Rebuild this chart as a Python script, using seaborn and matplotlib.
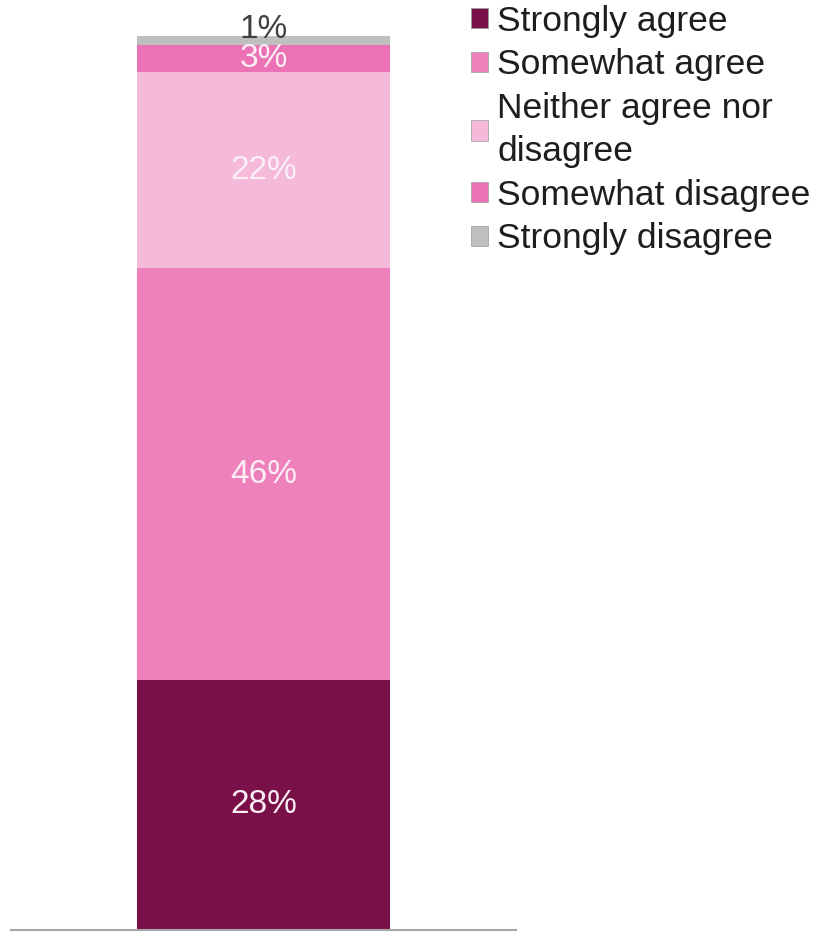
import matplotlib
matplotlib.use("Agg")
import matplotlib.pyplot as plt
from matplotlib.patches import Patch
import numpy as np
import pandas as pd
import seaborn as sns

# Survey responses, bottom of the stack first
responses = ["Strongly agree", "Somewhat agree", "Neither agree nor\ndisagree",
             "Somewhat disagree", "Strongly disagree"]
shares = [28, 46, 22, 3, 1]
colors = ["#7A1048", "#EE80BC", "#F5B9DA", "#EC72B6", "#BFBFBF"]
label_colors = ["#FBEFF5", "#FBEFF5", "#FBEFF5", "#FBEFF5", "#404040"]
group = [""]

sns.set_theme(style="white")
plt.rcParams["font.family"] = ["Liberation Sans", "DejaVu Sans"]

df = pd.DataFrame({"response": responses, "share": shares, "color": colors})
df["top"] = df["share"].cumsum()
df["bottom"] = df["top"] - df["share"]

fig = plt.figure(figsize=(8.27, 9.32), dpi=100)
ax = fig.add_axes([11 / 827, 2 / 932, 505 / 827, 894 / 932])

# Stacked bar: draw cumulative totals from tallest to shortest
for _, row in df.iloc[::-1].iterrows():
    sns.barplot(x=group, y=[row["top"]], color=row["color"], saturation=1,
                width=0.5, linewidth=0, ax=ax)

# Segment labels; the thin top segment gets its label lifted above the bar
for i, row in df.iterrows():
    mid = (row["top"] + row["bottom"]) / 2
    offset = 8 if row["share"] < 2 else 0
    ax.annotate(f"{row['share']}%", xy=(0, mid), xytext=(0, offset),
                textcoords="offset points", ha="center", va="center",
                fontsize=24, color=label_colors[i])

ax.set_xlim(-0.5, 0.5)
ax.set_ylim(0, 100)
ax.set_xlabel("")
ax.set_ylabel("")
ax.set_xticks([])
ax.set_yticks([])
for side in ["top", "left", "right"]:
    ax.spines[side].set_visible(False)
ax.spines["bottom"].set_color("#A6A6A6")
ax.spines["bottom"].set_linewidth(1.5)

handles = [Patch(facecolor=c, edgecolor="#9A9A9A", linewidth=0.5) for c in colors]
leg = fig.legend(handles, responses, loc="upper left",
                 bbox_to_anchor=(467 / 827, 1 - 1 / 932),
                 frameon=False, fontsize=25.5, handlelength=0.5, handleheight=0.5,
                 handletextpad=0.25, labelspacing=0.3, borderaxespad=0, borderpad=0.1)
for t in leg.get_texts():
    t.set_color("#1E1E1E")
    t.set_linespacing(1.4)

fig.savefig("out.png", dpi=100)
